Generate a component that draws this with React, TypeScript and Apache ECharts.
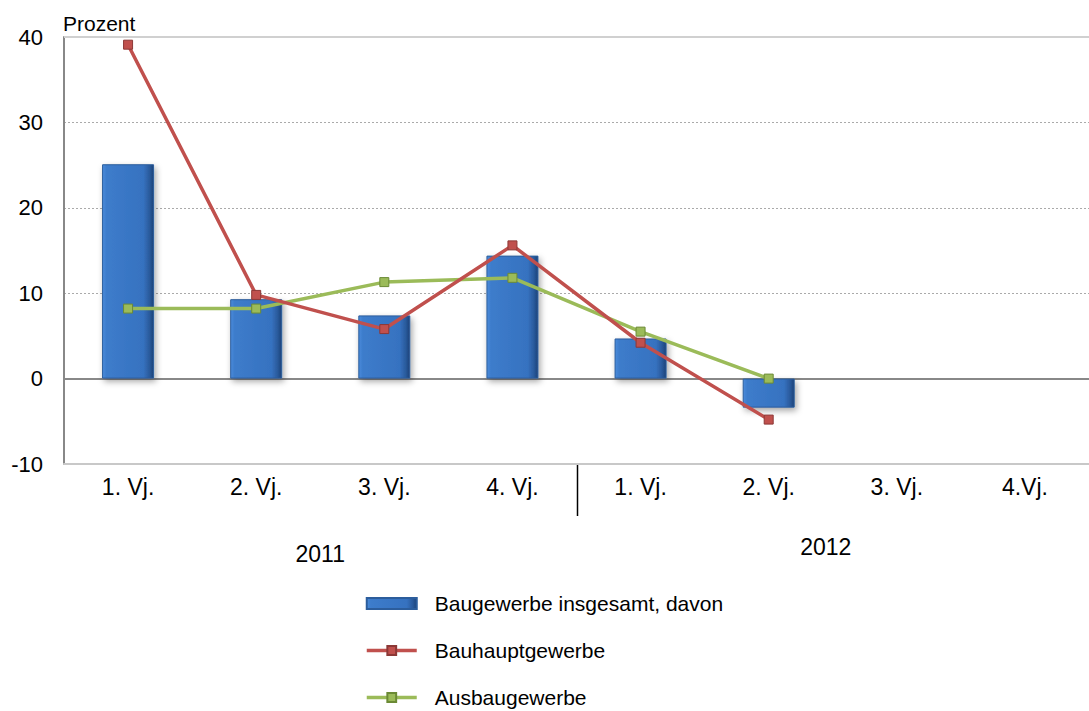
import React, { useEffect, useRef } from "react";
import * as echarts from "echarts";

const categories = ["1. Vj.", "2. Vj.", "3. Vj.", "4. Vj.", "1. Vj.", "2. Vj.", "3. Vj.", "4.Vj."];
const years = ["2011", "2012"];
const insgesamt = [25.1, 9.3, 7.4, 14.4, 4.7, -3.4, null, null];
const bauhaupt = [39.1, 9.8, 5.8, 15.6, 4.2, -4.8, null, null];
const ausbau = [8.2, 8.2, 11.3, 11.8, 5.5, 0.0, null, null];
const yTicks = { min: -10, max: 40, interval: 10 };

const FONT = "Liberation Sans, Arial, sans-serif";

export default function App() {
  const ref = useRef<HTMLDivElement>(null);
  useEffect(() => {
    const chart = echarts.init(ref.current!, null, { renderer: "svg" });
    const barColor = new echarts.graphic.LinearGradient(0, 0, 1, 0, [
      { offset: 0, color: "#4a8bdb" },
      { offset: 0.08, color: "#3d7ccb" },
      { offset: 0.8, color: "#3672c0" },
      { offset: 0.92, color: "#2a5a9c" },
      { offset: 1, color: "#1c4378" },
    ]);
    chart.setOption({
      animation: false,
      textStyle: { fontFamily: FONT },
      grid: { left: 64, right: 0, top: 37, bottom: 247, containLabel: false },
      xAxis: [
        {
          type: "category",
          data: categories,
          position: "bottom",
          axisLine: { onZero: false, lineStyle: { color: "#c8c8c8", width: 2 } },
          axisTick: { show: false },
          axisLabel: { color: "#000", fontSize: 23, margin: 11, fontFamily: FONT },
        },
        {
          type: "category",
          data: years,
          position: "bottom",
          offset: 70,
          gridIndex: 0,
          axisLine: { show: false },
          axisTick: { show: false },
          axisLabel: {
            color: "#000",
            fontSize: 23,
            margin: 1,
            fontFamily: FONT,
            formatter: (v: string, i: number) => (i === 0 ? `{a|${v}}` : `{b|${v}}`),
            rich: {
              a: { fontSize: 23, color: "#000", fontFamily: FONT, padding: [7, 0, 0, 0] },
              b: { fontSize: 23, color: "#000", fontFamily: FONT, padding: [0, 14, 0, 0] },
            },
          },
        },
      ],
      yAxis: {
        type: "value",
        min: yTicks.min,
        max: yTicks.max,
        interval: yTicks.interval,
        name: "Prozent",
        nameLocation: "end",
        nameGap: 3,
        nameTextStyle: { color: "#000", fontSize: 21, align: "left", verticalAlign: "bottom", fontFamily: FONT, padding: [0, 0, 0, -1] },
        axisLine: { show: true, lineStyle: { color: "#888", width: 2 } },
        axisTick: { show: false },
        axisLabel: { color: "#000", fontSize: 22, margin: 21, fontFamily: FONT },
        splitLine: { lineStyle: { color: "#aaa", type: [2, 2], width: 1 } },
      },
      legend: {
        orient: "vertical",
        left: 365,
        top: 593,
        height: 118,
        padding: 0,
        itemWidth: 50,
        itemHeight: 11,
        itemGap: 26,
        lineStyle: { width: 3.5 },
        textStyle: { color: "#000", fontSize: 21, lineHeight: 21, padding: [0, 0, 0, 13], fontFamily: FONT },
        data: [
          { name: "Baugewerbe insgesamt, davon", icon: "rect" },
          { name: "Bauhauptgewerbe" },
          { name: "Ausbaugewerbe" },
        ],
      },
      series: [
        {
          name: "Baugewerbe insgesamt, davon",
          type: "bar",
          data: insgesamt,
          barWidth: 52,
          itemStyle: {
            color: barColor,
            borderColor: "#2c5d9c",
            borderWidth: 1,
            shadowColor: "rgba(0,0,0,0.35)",
            shadowBlur: 6,
            shadowOffsetX: 2,
            shadowOffsetY: 3,
          },
          markLine: {
            silent: true,
            symbol: "none",
            label: { show: false },
            lineStyle: { color: "#888", width: 2, type: "solid" },
            data: [
              { yAxis: 0 },
              { yAxis: yTicks.max, lineStyle: { color: "#d0d0d0", width: 2, type: "solid" } },
            ],
            z: 1,
          },
        },
        {
          name: "Bauhauptgewerbe",
          type: "line",
          data: bauhaupt,
          symbol: "rect",
          symbolSize: 9,
          z: 5,
          lineStyle: { color: "#c0504d", width: 3.5 },
          itemStyle: { color: "#c0504d", borderColor: "#8c3836", borderWidth: 1 },
        },
        {
          name: "Ausbaugewerbe",
          type: "line",
          data: ausbau,
          symbol: "rect",
          symbolSize: 9,
          z: 4,
          lineStyle: { color: "#9bbb59", width: 3.5 },
          itemStyle: { color: "#9bbb59", borderColor: "#6b8a35", borderWidth: 1 },
        },
      ],
    });
    // year separator between the two halves, positioned from the axis scales
    const xa = chart.convertToPixel({ xAxisIndex: 0 }, 3) as number;
    const xb = chart.convertToPixel({ xAxisIndex: 0 }, 4) as number;
    const yBottom = chart.convertToPixel({ yAxisIndex: 0 }, yTicks.min) as number;
    const sepX = Math.round((xa + xb) / 2) + 0.5;
    chart.setOption({
      graphic: [
        {
          type: "line",
          shape: { x1: sepX, y1: yBottom, x2: sepX, y2: yBottom + 52 },
          style: { stroke: "#000", lineWidth: 1.5 },
          silent: true,
        },
      ],
    });
    return () => chart.dispose();
  }, []);
  return <div ref={ref} style={{ width: 1089, height: 711, position: "absolute", left: 0, top: 0 }} />;
}
